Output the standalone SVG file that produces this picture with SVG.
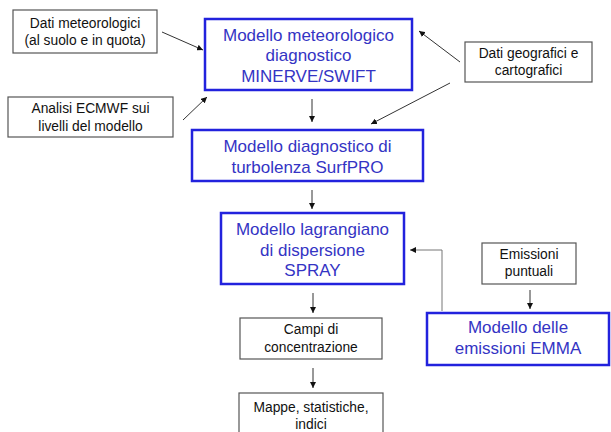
<svg xmlns="http://www.w3.org/2000/svg" width="611" height="432" viewBox="0 0 611 432">
<style>
text{font-family:"Liberation Sans",Arial,sans-serif;text-anchor:middle}
.k rect{fill:#fff;stroke:#555;stroke-width:1.2}
.k text{font-size:13.8px;fill:#111}
.b rect{fill:#fff;stroke:#2222dd;stroke-width:2.5}
.b text{font-size:17px;fill:#3434c4}
.c line,.c polyline{stroke:#333;stroke-width:1;fill:none;marker-end:url(#ah)}
</style>
<defs>
<marker id="ah" viewBox="0 0 10 10" refX="10" refY="5" markerWidth="6" markerHeight="6" markerUnits="userSpaceOnUse" orient="auto">
<path d="M0,0L10,5L0,10z" fill="#111"/>
</marker>
</defs>
<rect width="611" height="432" fill="#fff"/>
<g class="c" id="connectors">
<line x1="162" y1="32" x2="203" y2="50"/>
<line x1="183" y1="120" x2="207" y2="97"/>
<line x1="460" y1="62" x2="419" y2="31"/>
<line x1="450" y1="83" x2="371" y2="124"/>
<line x1="312" y1="99" x2="312" y2="122"/>
<line x1="312" y1="190" x2="312" y2="209"/>
<line x1="313" y1="293" x2="313" y2="313"/>
<line x1="313" y1="368" x2="313" y2="388"/>
<line x1="530" y1="290" x2="530" y2="309"/>
<polyline points="442,311 442,250 410,250" style="stroke:#777"/>
</g>
<g class="k" id="dati-meteo">
<rect x="13" y="10" width="144" height="43"/>
<text x="85" y="28">Dati meteorologici</text>
<text x="85" y="45">(al suolo e in quota)</text>
</g>
<g class="k" id="analisi-ecmwf">
<rect x="8" y="97" width="165" height="40"/>
<text x="90.5" y="113">Analisi ECMWF sui</text>
<text x="90.5" y="130.5">livelli del modello</text>
</g>
<g class="k" id="dati-geo">
<rect x="465" y="42" width="127" height="40"/>
<text x="528.5" y="58">Dati geografici e</text>
<text x="528.5" y="75">cartografici</text>
</g>
<g class="b" id="minerve">
<rect x="205" y="19" width="207" height="71"/>
<text x="308.5" y="41">Modello meteorologico</text>
<text x="308.5" y="61">diagnostico</text>
<text x="308.5" y="81.5">MINERVE/SWIFT</text>
</g>
<g class="b" id="surfpro">
<rect x="192" y="130" width="231" height="51"/>
<text x="307.5" y="151.5">Modello diagnostico di</text>
<text x="307.5" y="172.5">turbolenza SurfPRO</text>
</g>
<g class="b" id="spray">
<rect x="221" y="213" width="183" height="71"/>
<text x="312.5" y="235">Modello lagrangiano</text>
<text x="312.5" y="255.5">di dispersione</text>
<text x="312.5" y="276">SPRAY</text>
</g>
<g class="k" id="emissioni-puntuali">
<rect x="482" y="243" width="94" height="41"/>
<text x="529" y="259">Emissioni</text>
<text x="529" y="276">puntuali</text>
</g>
<g class="b" id="emma">
<rect x="427" y="313" width="182" height="52"/>
<text x="518" y="333">Modello delle</text>
<text x="518" y="354">emissioni EMMA</text>
</g>
<g class="k" id="campi">
<rect x="240" y="318" width="142" height="41"/>
<text x="311" y="334">Campi di</text>
<text x="311" y="351.5">concentrazione</text>
</g>
<g class="k" id="mappe">
<rect x="239" y="393" width="144" height="50"/>
<text x="311" y="412">Mappe, statistiche,</text>
<text x="311" y="429">indici</text>
</g>
</svg>
